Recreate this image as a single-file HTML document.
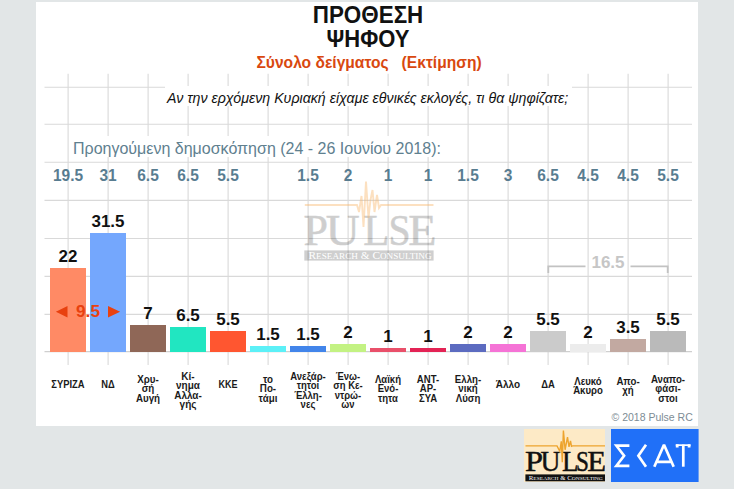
<!DOCTYPE html>
<html><head><meta charset="utf-8"><title>chart</title>
<style>
html,body{margin:0;padding:0}
body{width:734px;height:489px;overflow:hidden;background:#e2e6e7;position:relative;font-family:"Liberation Sans",sans-serif;}
.abs{position:absolute}
.panel{position:absolute;left:36px;top:2px;width:662.4px;height:424.3px;background:#fff}
.t{position:absolute;white-space:nowrap;line-height:1;}
.c{transform:translateX(-50%);text-align:center}
.val{font-weight:bold;font-size:17.4px;color:#111;transform:translateX(-50%) scaleX(.975)}
.prev{font-weight:bold;font-size:17.4px;color:#587c90;transform:translateX(-50%) scaleX(.89)}
.lab{font-weight:bold;font-size:10.5px;color:#1a1a1a;line-height:9.5px;text-align:center}
</style></head><body>
<div class="panel"></div>

<svg class="abs" style="left:0;top:0" width="734" height="489" viewBox="0 0 734 489">
<g stroke="#d9d9d9" stroke-width="1.1" fill="none">
<line x1="68.1" y1="73.7" x2="68.1" y2="365"/>
<line x1="108.1" y1="73.7" x2="108.1" y2="365"/>
<line x1="148.1" y1="73.7" x2="148.1" y2="365"/>
<line x1="188.1" y1="73.7" x2="188.1" y2="365"/>
<line x1="228.1" y1="73.7" x2="228.1" y2="365"/>
<line x1="268.1" y1="73.7" x2="268.1" y2="365"/>
<line x1="308.1" y1="73.7" x2="308.1" y2="365"/>
<line x1="348.1" y1="73.7" x2="348.1" y2="365"/>
<line x1="388.1" y1="73.7" x2="388.1" y2="365"/>
<line x1="428.1" y1="73.7" x2="428.1" y2="365"/>
<line x1="468.1" y1="73.7" x2="468.1" y2="365"/>
<line x1="508.1" y1="73.7" x2="508.1" y2="365"/>
<line x1="548.1" y1="73.7" x2="548.1" y2="365"/>
<line x1="588.1" y1="73.7" x2="588.1" y2="365"/>
<line x1="628.1" y1="73.7" x2="628.1" y2="365"/>
<line x1="668.1" y1="73.7" x2="668.1" y2="365"/>
<line x1="44.5" y1="87.2" x2="692" y2="87.2"/>
<line x1="44.5" y1="124.3" x2="692" y2="124.3"/>
<line x1="44.5" y1="162.2" x2="692" y2="162.2"/>
<line x1="44.5" y1="200.4" x2="692" y2="200.4"/>
<line x1="44.5" y1="238.5" x2="692" y2="238.5"/>
<line x1="44.5" y1="276.4" x2="692" y2="276.4"/>
<line x1="44.5" y1="314.4" x2="692" y2="314.4"/>
</g>
<line x1="44.5" y1="351.7" x2="692" y2="351.7" stroke="#cfcfcf" stroke-width="1.2"/>
</svg>
<div class="abs" style="left:165.3px;top:86.4px;width:406.5px;height:19.4px;background:#fff"></div>
<div class="abs" style="left:68.8px;top:136.4px;width:374px;height:20.4px;background:#fff"></div>
<div class="t" style="transform:translateX(-50%) scaleY(1.05);left:368px;top:5.4px;font-size:22.4px;font-weight:bold;color:#111">ΠΡΟΘΕΣΗ</div>
<div class="t" style="transform:translateX(-50%) scaleY(1.05);left:368px;top:29.1px;font-size:22px;font-weight:bold;color:#111">ΨΗΦΟΥ</div>
<div class="t" style="left:256.5px;top:54.6px;font-size:15.6px;font-weight:bold;color:#d9480f;white-space:pre">Σύνολο δείγματος   (Εκτίμηση)</div>
<div class="t" style="left:167px;top:91.1px;font-size:14.2px;font-style:italic;color:#111">Αν την ερχόμενη Κυριακή είχαμε εθνικές εκλογές, τι θα ψηφίζατε;</div>
<div class="t" style="left:73px;top:141.4px;font-size:16px;color:#60808f">Προηγούμενη δημοσκόπηση (24 - 26 Ιουνίου 2018):</div>
<div class="t c prev" style="left:68px;top:166.8px">19.5</div>
<div class="t c prev" style="left:108px;top:166.8px">31</div>
<div class="t c prev" style="left:148px;top:166.8px">6.5</div>
<div class="t c prev" style="left:188px;top:166.8px">6.5</div>
<div class="t c prev" style="left:228px;top:166.8px">5.5</div>
<div class="t c prev" style="left:308px;top:166.8px">1.5</div>
<div class="t c prev" style="left:348px;top:166.8px">2</div>
<div class="t c prev" style="left:388px;top:166.8px">1</div>
<div class="t c prev" style="left:428px;top:166.8px">1</div>
<div class="t c prev" style="left:468px;top:166.8px">1.5</div>
<div class="t c prev" style="left:508px;top:166.8px">3</div>
<div class="t c prev" style="left:548px;top:166.8px">6.5</div>
<div class="t c prev" style="left:588px;top:166.8px">4.5</div>
<div class="t c prev" style="left:628px;top:166.8px">4.5</div>
<div class="t c prev" style="left:668px;top:166.8px">5.5</div>
<svg class="abs" style="left:300px;top:176px" width="140" height="90" viewBox="300 176 140 90">
<g font-family="Liberation Serif, serif" font-size="45" fill="#000" stroke="#000" stroke-width="0.6" opacity="0.19">
<text transform="translate(303.5,244.6) scale(0.978,1)">P</text>
<text transform="translate(325.7,244.6) scale(1.044,1)">U</text>
<text transform="translate(363.2,244.6) scale(0.951,1)">L</text>
<text transform="translate(388.4,244.6) scale(0.882,1)">S</text>
<text transform="translate(408.3,244.6) scale(1.025,1)">E</text>
</g>
<path d="M304.8 205 H357 L359 212 L361.5 196 L363.5 227 L366 181.5 L368.5 218 L370.5 200 L372.5 190 L374.5 212 L377 195 L379 208 L381 205 H433.5" stroke="#f7b56a" stroke-opacity="0.42" stroke-width="1.9" fill="none" stroke-linejoin="miter"/>
<rect x="304.3" y="250.4" width="129.3" height="10.2" fill="#000" fill-opacity="0.19"/>
<text x="370.1" y="258.9" text-anchor="middle" font-family="Liberation Serif, serif" font-size="9.6" fill="#fff" textLength="123" lengthAdjust="spacingAndGlyphs">R<tspan font-size="7.8">ESEARCH</tspan> &amp; C<tspan font-size="7.8">ONSULTING</tspan></text>
</svg>
<div class="abs" style="left:50px;top:268.35px;width:36px;height:83.65px;background:#ff8a65"></div>
<div class="t c val" style="left:68px;top:248.32px">22</div>
<div class="abs" style="left:90px;top:233.09px;width:36px;height:118.91px;background:#74a7fd"></div>
<div class="t c val" style="left:108px;top:213.06px">31.5</div>
<div class="abs" style="left:130px;top:324.88px;width:36px;height:27.12px;background:#8f6757"></div>
<div class="t c val" style="left:148px;top:304.85px">7</div>
<div class="abs" style="left:170px;top:327.26px;width:36px;height:24.74px;background:#21e6c1"></div>
<div class="t c val" style="left:188px;top:307.23px">6.5</div>
<div class="abs" style="left:210px;top:331.24px;width:36px;height:20.76px;background:#ff5630"></div>
<div class="t c val" style="left:228px;top:311.21px">5.5</div>
<div class="abs" style="left:250px;top:346.34px;width:36px;height:5.66px;background:#5cf0f7"></div>
<div class="t c val" style="left:268px;top:326.31px">1.5</div>
<div class="abs" style="left:290px;top:346.34px;width:36px;height:5.66px;background:#4285ea"></div>
<div class="t c val" style="left:308px;top:326.31px">1.5</div>
<div class="abs" style="left:330px;top:344.45px;width:36px;height:7.55px;background:#c3f283"></div>
<div class="t c val" style="left:348px;top:324.42px">2</div>
<div class="abs" style="left:370px;top:348.23px;width:36px;height:3.77px;background:#e9506a"></div>
<div class="t c val" style="left:388px;top:328.20px">1</div>
<div class="abs" style="left:410px;top:348.23px;width:36px;height:3.77px;background:#e32355"></div>
<div class="t c val" style="left:428px;top:328.20px">1</div>
<div class="abs" style="left:450px;top:344.45px;width:36px;height:7.55px;background:#5c6bc0"></div>
<div class="t c val" style="left:468px;top:324.42px">2</div>
<div class="abs" style="left:490px;top:344.45px;width:36px;height:7.55px;background:#f573d6"></div>
<div class="t c val" style="left:508px;top:324.42px">2</div>
<div class="abs" style="left:530px;top:331.24px;width:36px;height:20.76px;background:#cbcbcb"></div>
<div class="t c val" style="left:548px;top:311.21px">5.5</div>
<div class="abs" style="left:570px;top:344.45px;width:36px;height:7.55px;background:#ececec"></div>
<div class="t c val" style="left:588px;top:324.42px">2</div>
<div class="abs" style="left:610px;top:338.79px;width:36px;height:13.21px;background:#c2a9a1"></div>
<div class="t c val" style="left:628px;top:318.76px">3.5</div>
<div class="abs" style="left:650px;top:331.24px;width:36px;height:20.76px;background:#bababa"></div>
<div class="t c val" style="left:668px;top:311.21px">5.5</div>
<div class="t c" style="left:88px;top:302.8px;font-size:17.3px;font-weight:bold;color:#e8410f">9.5</div>
<svg class="abs" style="left:50px;top:300px" width="80" height="24" viewBox="50 300 80 24"><path d="M55.9 311.8 L67.5 306 V317.6 Z M120.1 311.8 L108 306 V317.6 Z" fill="#e8410f"/></svg>
<svg class="abs" style="left:540px;top:250px" width="140" height="30" viewBox="540 250 140 30">
<path d="M548.3 273 V266.3 H585.5 M630.5 266.3 H667.7 V273" stroke="#c2c2c2" stroke-width="1.8" fill="none"/>
<text x="608" y="268.3" text-anchor="middle" font-family="Liberation Sans, sans-serif" font-weight="bold" font-size="17" fill="#c6c6c6">16.5</text>
</svg>
<div class="t lab" style="left:68px;top:380.1px;transform:translateX(-50%) scaleX(0.895)">ΣΥΡΙΖΑ</div>
<div class="t lab" style="left:108px;top:380.1px;transform:translateX(-50%) scaleX(0.89)">ΝΔ</div>
<div class="t lab" style="left:148px;top:374.6px;transform:translateX(-50%) scaleX(0.93)">Χρυ-<br>σή<br>Αυγή</div>
<div class="t lab" style="left:188px;top:371.8px;transform:translateX(-50%) scaleX(0.95)">Κί-<br>νημα<br>Αλλα-<br>γής</div>
<div class="t lab" style="left:228px;top:380.1px;transform:translateX(-50%) scaleX(0.86)">ΚΚΕ</div>
<div class="t lab" style="left:268px;top:374.6px;transform:translateX(-50%) scaleX(0.93)">το<br>Πο-<br>τάμι</div>
<div class="t lab" style="left:308px;top:371.8px;transform:translateX(-50%) scaleX(0.908)">Ανεξάρ-<br>τητοι<br>Έλλη-<br>νες</div>
<div class="t lab" style="left:348px;top:371.8px;transform:translateX(-50%) scaleX(0.9)">Ένω-<br>ση Κε-<br>ντρώ-<br>ων</div>
<div class="t lab" style="left:388px;top:374.6px;transform:translateX(-50%) scaleX(0.908)">Λαϊκή<br>Ενό-<br>τητα</div>
<div class="t lab" style="left:428px;top:374.6px;transform:translateX(-50%) scaleX(0.91)">ΑΝΤ-<br>ΑΡ-<br>ΣΥΑ</div>
<div class="t lab" style="left:468px;top:374.6px;transform:translateX(-50%) scaleX(0.92)">Ελλη-<br>νική<br>Λύση</div>
<div class="t lab" style="left:508px;top:380.1px;transform:translateX(-50%) scaleX(0.955)">Άλλο</div>
<div class="t lab" style="left:548px;top:380.1px;transform:translateX(-50%) scaleX(0.9)">ΔΑ</div>
<div class="t lab" style="left:588px;top:376.9px;transform:translateX(-50%) scaleX(0.915)">Λευκό<br>Άκυρο</div>
<div class="t lab" style="left:628px;top:376.9px;transform:translateX(-50%) scaleX(0.92)">Απο-<br>χή</div>
<div class="t lab" style="left:668px;top:374.6px;transform:translateX(-50%) scaleX(0.92)">Αναπο-<br>φάσι-<br>στοι</div>
<div class="t" style="left:611.5px;top:412px;font-size:10.5px;color:#7d8c95">© 2018 Pulse RC</div>
<svg class="abs" style="left:523.5px;top:428.7px" width="81.6" height="53" viewBox="523.5 428.7 81.6 53">
<rect x="523.5" y="428.7" width="81.6" height="53" fill="#fdeac6"/>
<g font-family="Liberation Serif, serif" font-size="28.5" fill="#111" stroke="#111" stroke-width="0.45">
<text transform="translate(524.56,470.4) scale(1.14,1)">P</text>
<text transform="translate(540.1,470.4) scale(0.97,1)">U</text>
<text transform="translate(561.6,470.4) scale(0.95,1)">L</text>
<text transform="translate(575.5,470.4) scale(0.815,1)">S</text>
<text transform="translate(586.7,470.4) scale(1.08,1)">E</text>
</g>
<path d="M525 445.6 H556.5 L559.3 451 L560.8 441 L561.8 462 L562.9 430.3 L564.6 449.5 L567 436.8 L568.5 446.5 L570 440.7 L571 446 L572 445.6 H604.6" stroke="#eda42e" stroke-width="1.4" fill="none"/>
<rect x="524.9" y="474.1" width="79.7" height="6.9" fill="#111"/>
<text x="565.3" y="479.9" text-anchor="middle" font-family="Liberation Serif, serif" font-size="6.2" fill="#fff" textLength="74" lengthAdjust="spacingAndGlyphs">R<tspan font-size="5">ESEARCH</tspan> &amp; C<tspan font-size="5">ONSULTING</tspan></text>
</svg>
<svg class="abs" style="left:611.2px;top:428.7px" width="87.6" height="53" viewBox="611.2 428.7 87.6 53">
<rect x="611.2" y="428.7" width="87.6" height="53" fill="#2070f8"/>
<g stroke="#fff" stroke-width="2.7" fill="none" stroke-linejoin="miter">
<path d="M629.6 445.4 H616.6 L624.3 455.4 L616.6 465.5 H629.6"/>
<path d="M646.2 444.4 L638.6 455.4 L646.2 466.4" stroke-linejoin="miter"/>
<path d="M654.5 466.5 L664.2 444.5 L673.9 466.5 M656.8 461.5 H671.6" stroke-linejoin="bevel"/>
<path d="M683.5 444.3 V466.4"/>
</g>
<rect x="676" y="444" width="14.7" height="1.7" fill="#fff"/>
<rect x="676" y="444" width="2.8" height="3.2" fill="#fff"/>
<rect x="687.9" y="444" width="2.8" height="3.2" fill="#fff"/>
</svg>
</body></html>
